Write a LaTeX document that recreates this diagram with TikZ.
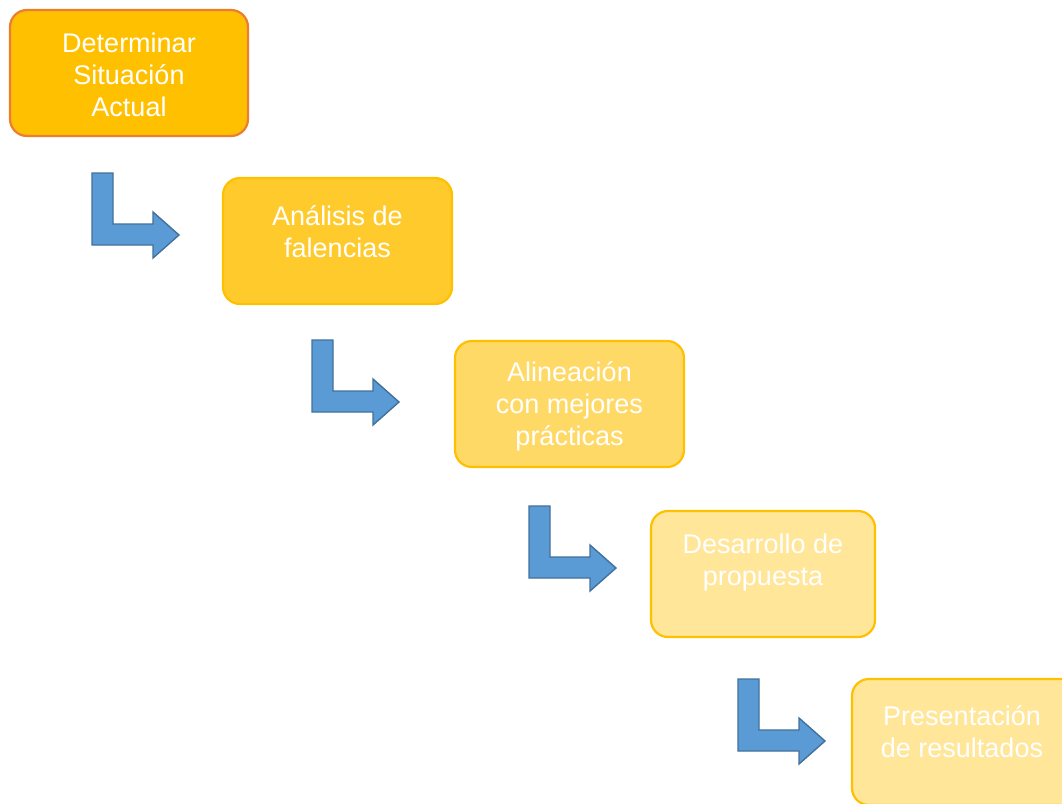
\documentclass[tikz,border=0pt]{standalone}
\usepackage{fontspec}
\setmainfont{Liberation Sans}
\definecolor{arrowfill}{HTML}{5B9BD5}
\definecolor{arrowline}{HTML}{41719C}
\definecolor{gold}{HTML}{FFC000}
\definecolor{orangeline}{HTML}{ED7D31}
\definecolor{stepA}{HTML}{FFC000}
\definecolor{stepB}{HTML}{FFCA2C}
\definecolor{stepC}{HTML}{FFD966}
\definecolor{stepD}{HTML}{FFE699}
\definecolor{stepE}{HTML}{FFE699}
\begin{document}
\begin{tikzpicture}[x=1pt,y=-1pt,
  stagebox/.style={rectangle, rounded corners=17pt, line width=2.2pt, draw=gold, inner sep=0pt},
  stagetext/.style={text=white, align=center, inner sep=0pt,
    font=\fontsize{27pt}{32pt}\selectfont},
  bentarrow/.pic={
    \draw[fill=arrowfill, draw=arrowline, line width=1.4pt, line join=miter]
      (0,0) -- (21,0) -- (21,51) -- (61,51) -- (61,39) -- (87,62)
      -- (61,85) -- (61,72) -- (0,72) -- cycle;
  }]
\useasboundingbox (0,0) rectangle (1062,803);
\clip (0,0) rectangle (1062,803);
\fill[white] (0,0) rectangle (1062,803);

% stage boxes
\node[stagebox, draw=orangeline, fill=stepA, minimum width=238pt, minimum height=126pt] (s1) at (129,73) {};
\node[stagebox, fill=stepB, minimum width=229pt, minimum height=126pt] (s2) at (337.5,241) {};
\node[stagebox, fill=stepC, minimum width=229pt, minimum height=126pt] (s3) at (569.5,404) {};
\node[stagebox, fill=stepD, minimum width=224pt, minimum height=126pt] (s4) at (763,574) {};
\node[stagebox, fill=stepE, minimum width=226pt, minimum height=126pt] (s5) at (965,742) {};

% stage labels
\node[stagetext] (t1) at (129,75) {Determinar\\Situación\\Actual};
\node[stagetext] (t2) at (337.5,232) {Análisis de\\falencias};
\node[stagetext] (t3) at (569.5,406) {Alineación\\con mejores\\prácticas};
\node[stagetext] (t4) at (763,563) {Desarrollo de\\propuesta};
\node[stagetext] (t5) at (962,732) {Presentación\\de resultados};

% bent arrows between stages
\coordinate (a1) at (92,173);
\coordinate (a2) at (312,340);
\coordinate (a3) at (529,506);
\coordinate (a4) at (738,679);
\pic at (a1) {bentarrow};
\pic at (a2) {bentarrow};
\pic at (a3) {bentarrow};
\pic at (a4) {bentarrow};
\end{tikzpicture}
\end{document}
